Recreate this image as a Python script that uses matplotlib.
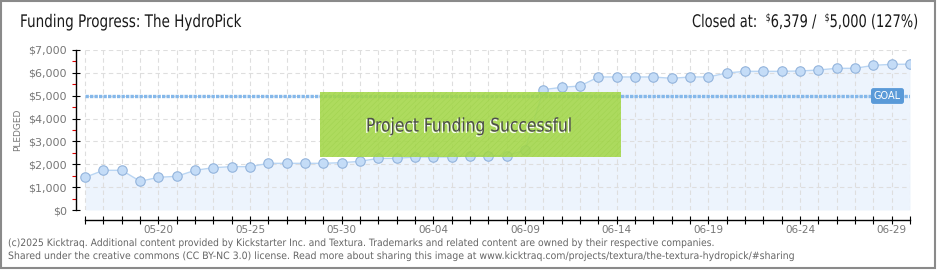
import matplotlib
matplotlib.use('Agg')
import matplotlib.pyplot as plt
import matplotlib.patches as mpatches
import matplotlib.patheffects as pe
from matplotlib.transforms import Affine2D
import numpy as np
import pandas as pd

# ---------------- data ----------------
dates = pd.date_range('2025-05-16', '2025-06-30', freq='D')
pledged = [1430, 1736, 1736, 1255, 1430, 1474, 1736, 1852, 1896, 1896,
           2042, 2042, 2042, 2042, 2071, 2129, 2260, 2260, 2319, 2319,
           2319, 2377, 2377, 2377, 2625, 5265, 5367, 5425, 5819, 5819,
           5819, 5819, 5760, 5819, 5819, 5994, 6067, 6067, 6067, 6081,
           6125, 6198, 6198, 6329, 6373, 6379]
goal = 5000
tick_dates = ['05-20', '05-25', '05-30', '06-04', '06-09', '06-14', '06-19', '06-24', '06-29']
yticks = [0, 1000, 2000, 3000, 4000, 5000, 6000, 7000]
ytick_labels = ['$0', '$1,000', '$2,000', '$3,000', '$4,000', '$5,000', '$6,000', '$7,000']
yminor = [500, 1500, 2500, 3500, 4500, 5500, 6500]

title = 'Funding Progress: The HydroPick'
footer1 = ('(c)2025 Kicktraq. Additional content provided by Kickstarter Inc. and Textura. '
           'Trademarks and related content are owned by their respective companies.')
footer2 = ('Shared under the creative commons (CC BY-NC 3.0) license. Read more about sharing this '
           'image at www.kicktraq.com/projects/textura/the-textura-hydropick/#sharing')

FONT = 'DejaVu Sans'

W, H = 940, 270
fig = plt.figure(figsize=(W / 100, H / 100), dpi=100)
fig.patch.set_facecolor('white')


def fx(px):
    return px / W


def fy(py):
    return 1 - py / H


class Condense(pe.AbstractPathEffect):
    """Horizontally squeeze text around a fixed display x anchor."""

    def __init__(self, sx, x0, inner=None):
        super().__init__()
        self.sx, self.x0 = sx, x0
        self.inner = inner or [pe.Normal()]

    def draw_path(self, renderer, gc, tpath, affine, rgbFace=None):
        a = affine + Affine2D().translate(-self.x0, 0).scale(self.sx, 1).translate(self.x0, 0)
        for eff in self.inner:
            eff.draw_path(renderer, gc, tpath, a, rgbFace)


ax = fig.add_axes([fx(76), fy(210), (910 - 76) / W, 160 / H])
x = np.arange(len(dates))
ax.set_xlim(-0.5, len(dates) - 1)
ax.set_ylim(0, 7000)
ax.set_facecolor('none')

# grid (dashed) limited to data area
grid_kw = dict(colors='#dedede', linestyles=(0, (4, 3)), lw=0.8, zorder=1.5)
ax.vlines(x, 0, 7000, **grid_kw)
ax.hlines(yticks[1:], 0, x[-1], **grid_kw)

# area + line + markers
ax.fill_between(x, pledged, 0, color='#edf4fd', lw=0, zorder=1)
ax.plot(x, pledged, color='#b9d5f3', lw=1.0, marker='o', ms=6.8,
        mfc='#c4dcf7', mec='#93b4dc', mew=0.8, zorder=3)

# goal line
ax.hlines(goal, 0, x[-1], colors='#85b8ea', lw=2.4, linestyles=(0, (1, 0.35)), zorder=2.5)

# spines / ticks
for s in ['top', 'right']:
    ax.spines[s].set_visible(False)
ax.spines['left'].set_linewidth(1)
ax.spines['bottom'].set_linewidth(1)
ax.spines['bottom'].set_position(('outward', 7.5))
ax.spines['bottom'].set_bounds(0, x[-1])

labels = [d.strftime('%m-%d') if d.strftime('%m-%d') in tick_dates else '' for d in dates]
ax.set_xticks(x)
ax.set_xticklabels(labels)
ax.tick_params(axis='x', direction='inout', length=6, width=0.8, color='black',
               labelcolor='#777777', labelsize=7.5, pad=0.5)
ax.set_yticks(yticks)
ax.set_yticklabels(ytick_labels)
ax.set_yticks(yminor, minor=True)
ax.tick_params(axis='y', which='major', direction='inout', length=6, width=0.8, color='black',
               labelcolor='#777777', labelsize=8, pad=3.5)
ax.tick_params(axis='y', which='minor', direction='out', length=3, width=0.8, color='#e00000')
for t in ax.get_xticklabels() + ax.get_yticklabels():
    t.set_family(FONT)

fig.canvas.draw()
rend = fig.canvas.get_renderer()

# success box
box = mpatches.Rectangle((fx(320), fy(157)), (621 - 320) / W, (157 - 92) / H,
                         transform=fig.transFigure, facecolor='#a3d748', alpha=0.88,
                         edgecolor='none', zorder=5, clip_on=False)
ax.add_artist(box)
plt.rcParams['hatch.linewidth'] = 0.4
hatch = mpatches.Rectangle((fx(320), fy(157)), (621 - 320) / W, (157 - 92) / H,
                           transform=fig.transFigure, fill=False, hatch='//////',
                           edgecolor=(0.55, 0.78, 0.22, 0.35), lw=0, zorder=5.1, clip_on=False)
ax.add_artist(hatch)
st = ax.text(fx(469), fy(126), 'Project Funding Successful', transform=fig.transFigure,
             ha='center', va='center', fontsize=13.5, color='#4d4d4d', family=FONT, zorder=6)
w = st.get_window_extent(rend).width
st.set_path_effects([Condense(206 / w, 469, [
    pe.SimplePatchShadow(offset=(-1, -1), shadow_rgbFace='white', alpha=0.9), pe.Normal()])])

# GOAL tag
fig.text(fx(887.5), fy(96), 'GOAL', ha='center', va='center', fontsize=7, color='white',
         family=FONT,
         bbox=dict(boxstyle='round,pad=0.3,rounding_size=0.25', fc='#5a9ad8', ec='none'),
         zorder=7)

# title
tt = fig.text(fx(20), fy(22), title, ha='left', va='center', fontsize=12.5, color='#1a1a1a', family=FONT)
w = tt.get_window_extent(rend).width
tt.set_path_effects([Condense(223 / w, 20)])

# Right header built from pieces (small superscript $)
pieces = [('Closed at:', 12.5, 0), ('  ', 12.5, 0), ('$', 7.5, 4), ('6,379 / ', 12.5, 0),
          (' ', 12.5, 0), ('$', 7.5, 4), ('5,000 (127%)', 12.5, 0)]
objs = []
cur = 0.0
for s, fs, dy in pieces:
    t = fig.text(0, fy(22) + dy / H, s, ha='left', va='center',
                 fontsize=fs, color='#1a1a1a', family=FONT, parse_math=False)
    bb = t.get_window_extent(rend)
    objs.append((t, cur))
    cur += bb.width
right = 918
sx = 226 / cur
for t, off in objs:
    t.set_x(fx(right - cur + off))
    t.set_path_effects([Condense(sx, right)])

fig.text(fx(18), fy(130), 'PLEDGED', rotation=90, ha='center', va='center', fontsize=6.5,
         color='#777777', family=FONT)

f1 = fig.text(fx(8), fy(243), footer1, ha='left', va='center', fontsize=7.3, color='#666666', family=FONT)
f2 = fig.text(fx(8), fy(256), footer2, ha='left', va='center', fontsize=7.3, color='#666666', family=FONT)
w1 = f1.get_window_extent(rend).width
f1.set_path_effects([Condense(705 / w1, 8)])
w2 = f2.get_window_extent(rend).width
f2.set_path_effects([Condense(785 / w2, 8)])

# outer frame
frame = mpatches.Rectangle((fx(1), fy(268)), (935 - 1) / W, (268 - 1) / H, transform=fig.transFigure,
                           fill=False, edgecolor='#8a8a8a', lw=1.5, zorder=10)
fig.add_artist(frame)

fig.savefig('out.png', dpi=100, facecolor='white')
